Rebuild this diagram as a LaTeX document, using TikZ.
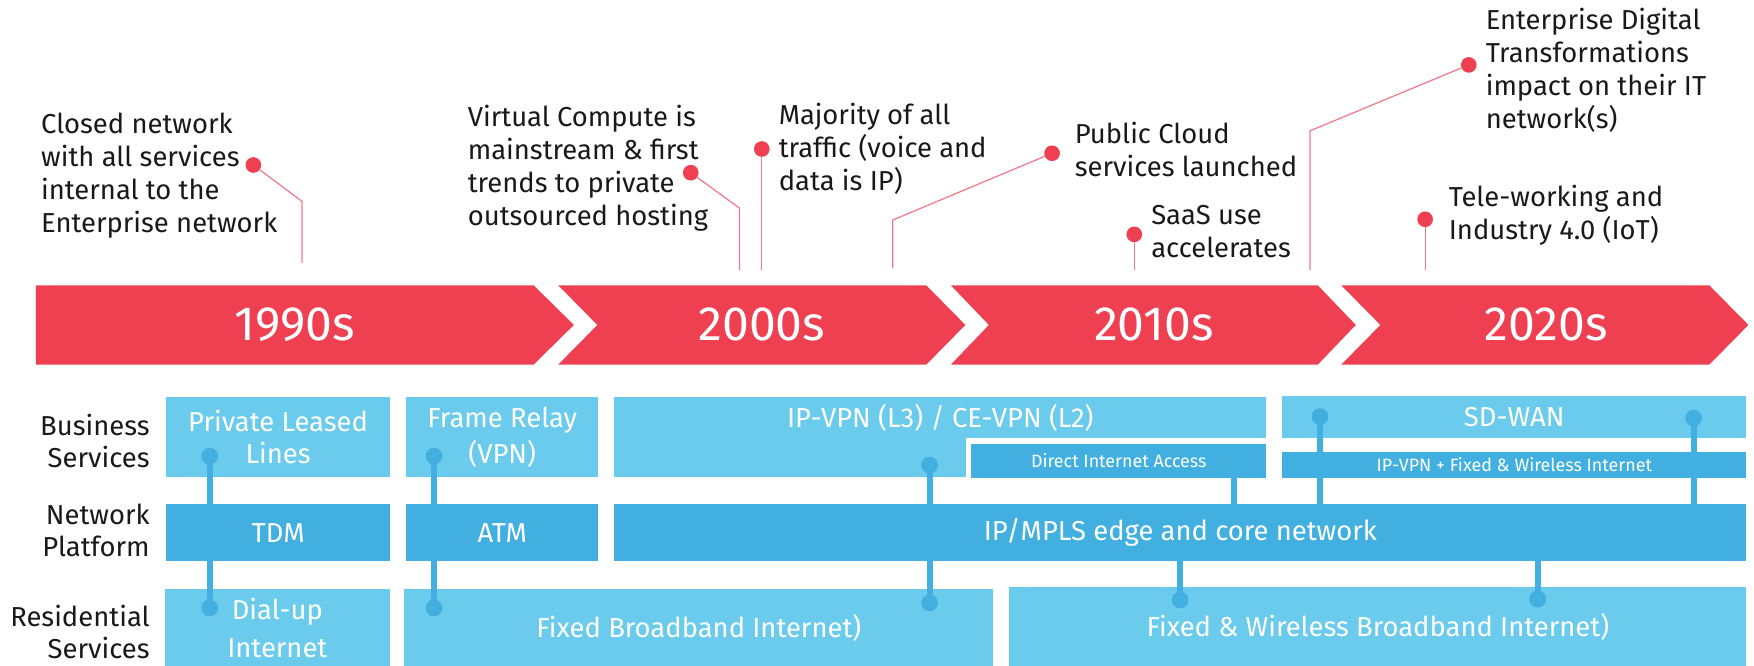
\documentclass[tikz,border=0pt]{standalone}
\usepackage{fontspec}
\setmainfont{Fira Sans}
\definecolor{evred}{RGB}{238,64,81}
\definecolor{evpink}{RGB}{242,122,133}
\definecolor{lightblue}{RGB}{106,203,236}
\definecolor{darkblue}{RGB}{65,176,224}
\definecolor{ink}{RGB}{25,25,25}
\begin{document}
\begin{tikzpicture}[x=1pt,y=-1pt,
  era/.style={fill=evred},
  yearlbl/.style={text=white,inner sep=0,font=\fontsize{43}{43}\selectfont},
  note/.style={anchor=north west,align=left,inner sep=0,text=ink,font=\fontsize{24.5}{29.5}\selectfont},
  reddot/.style={circle,fill=evred,inner sep=0,minimum size=14},
  redline/.style={draw=evpink,line width=1.1},
  svc/.style={rectangle,inner sep=0,anchor=north west,text=white,align=center,font=\fontsize{24.5}{28}\selectfont},
  svclight/.style={svc,fill=lightblue},
  svcdark/.style={svc,fill=darkblue},
  smalltext/.style={font=\fontsize{16}{16}\selectfont},
  rowlbl/.style={anchor=north east,align=right,inner sep=0,text=ink,font=\fontsize{24.5}{28.5}\selectfont},
  bluedot/.style={circle,fill=darkblue,inner sep=0,minimum size=15},
  blueline/.style={draw=darkblue,line width=5.5},
]
\useasboundingbox (0,0) rectangle (1568,595);

% ---- timeline chevrons ----
\fill[era] (32,255) -- (477,255) -- (513,290.5) -- (477,326) -- (32,326) -- cycle;
\fill[era] (499,255) -- (828,255) -- (863,290.5) -- (828,326) -- (499,326) -- (534,290.5) -- cycle;
\fill[era] (850,255) -- (1178,255) -- (1212,290.5) -- (1178,326) -- (850,326) -- (884,290.5) -- cycle;
\fill[era] (1199,255) -- (1528,255) -- (1563,290.5) -- (1528,326) -- (1199,326) -- (1234,290.5) -- cycle;
\node[yearlbl] (y1990) at (263.5,290) {1990s};
\node[yearlbl] (y2000) at (681,290) {2000s};
\node[yearlbl] (y2010) at (1031.5,290) {2010s};
\node[yearlbl] (y2020) at (1382,290) {2020s};

% ---- milestone notes ----
\node[note] (n1) at (36.6,101) {Closed network\\with all services\\internal to the\\Enterprise network};
\node[note] (n2) at (418,93.8) {Virtual Compute is\\mainstream \& first\\trends to private\\outsourced hosting};
\node[note] (n3) at (696,92) {Majority of all\\traffic (voice and\\data is IP)};
\node[note] (n4) at (960.6,108.7) {Public Cloud\\services launched};
\node[note] (n5) at (1029,183) {SaaS use\\accelerates};
\node[note] (n6) at (1328,7.3) {Enterprise Digital\\Transformations\\impact on their IT\\network(s)};
\node[note] (n7) at (1295,165) {Tele-working and\\Industry 4.0 (IoT)};

% ---- milestone pointers ----
\node[reddot] (p1) at (226.5,147.5) {};
\node[reddot] (p2) at (617.5,154.4) {};
\node[reddot] (p3) at (681,133.2) {};
\node[reddot] (p4) at (940.5,137) {};
\node[reddot] (p5) at (1014,209.5) {};
\node[reddot] (p6) at (1313,58) {};
\node[reddot] (p7) at (1274,196) {};
\coordinate (k1) at (270,180);   \coordinate (e1) at (270,235);
\coordinate (k2) at (661,186);   \coordinate (e2) at (661,241.4);
\coordinate (e3) at (681,241.4);
\coordinate (k4) at (798,196.7); \coordinate (e4) at (798,239.8);
\coordinate (e5) at (1014,241.4);
\coordinate (k6) at (1171,117);  \coordinate (e6) at (1171,241.4);
\coordinate (e7) at (1274,241.4);
\draw[redline] (p1) -- (k1) -- (e1);
\draw[redline] (p2) -- (k2) -- (e2);
\draw[redline] (p3) -- (e3);
\draw[redline] (p4) -- (k4) -- (e4);
\draw[redline] (p5) -- (e5);
\draw[redline] (p6) -- (k6) -- (e6);
\draw[redline] (p7) -- (e7);

% ---- row labels ----
\node[rowlbl] (rbiz) at (134,370) {Business\\Services};
\node[rowlbl] (rnet) at (134,450) {Network\\Platform};
\node[rowlbl] (rres) at (134,540.7) {Residential\\Services};

% ---- business services ----
\node[svclight, minimum width=199.8, minimum height=71] (pll) at (148.5,355) {Private Leased\\Lines};
\node[svclight, minimum width=171.6, minimum height=71, font=\fontsize{24.5}{32}\selectfont] (fr) at (363,355) {Frame Relay\\(VPN)};
\node[svclight, minimum width=582.8, minimum height=36.6] (ipvpn) at (549,355) {IP-VPN (L3) / CE-VPN (L2)};
\fill[lightblue] (549,391) rectangle (863.6,426);
\node[svcdark, smalltext, minimum width=263.8, minimum height=30] (dia) at (868,397) {Direct Internet Access};
\node[svclight, minimum width=415, minimum height=37.3] (sdwan) at (1146,354) {SD-WAN};
\node[svcdark, smalltext, minimum width=415, minimum height=23] (ipfw) at (1146,404) {IP-VPN + Fixed \& Wireless Internet};

% ---- network platform ----
\node[svcdark, minimum width=199.8, minimum height=50.7] (tdm) at (148.5,450.6) {TDM};
\node[svcdark, minimum width=171.6, minimum height=50.7] (atm) at (363,450.6) {ATM};
\node[svcdark, minimum width=1012, minimum height=50.7] (mpls) at (549,450.6) {IP/MPLS edge and core network};

% ---- residential services ----
\node[svclight, minimum width=200.5, minimum height=68.4, font=\fontsize{24.5}{34}\selectfont] (dial) at (147.5,526.6) {Dial-up\\Internet};
\node[svclight, minimum width=526.3, minimum height=68.4] (fbb) at (361.4,526.6) {Fixed Broadband Internet)};
\node[svclight, minimum width=659, minimum height=70.2] (fwb) at (902,524.8) {Fixed \& Wireless Broadband Internet)};

% ---- platform links ----
\node[bluedot] (a1) at (187.5,407.7) {};
\node[bluedot] (a2) at (187.5,543.5) {};
\node[bluedot] (b1) at (388,407.7) {};
\node[bluedot] (b2) at (388,543.5) {};
\node[bluedot] (c1) at (831,415.7) {};
\node[bluedot] (c2) at (831,539) {};
\node[bluedot] (f1) at (1180,372.5) {};
\node[bluedot] (f2) at (1514,373.7) {};
\node[bluedot] (g1) at (1055,536.4) {};
\node[bluedot] (g2) at (1374.6,535.5) {};
\coordinate (diax) at (1103,0);
\draw[blueline] (a1.center) -- (a2.center);
\draw[blueline] (b1.center) -- (b2.center);
\draw[blueline] (c1.center) -- (c2.center);
\draw[blueline] (diax |- dia.south) -- (diax |- mpls.north);
\draw[blueline] (f1.center) -- (f1 |- mpls.north);
\draw[blueline] (f2.center) -- (f2 |- mpls.north);
\draw[blueline] (g1 |- mpls.south) -- (g1.center);
\draw[blueline] (g2 |- mpls.south) -- (g2.center);
\end{tikzpicture}
\end{document}
